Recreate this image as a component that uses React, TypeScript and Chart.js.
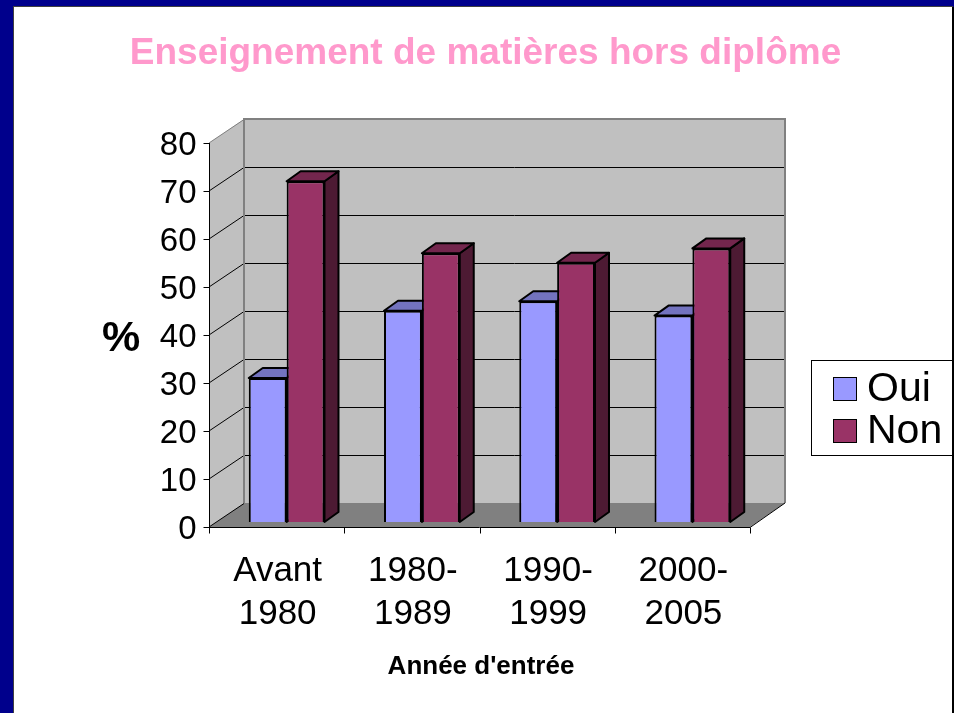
import React, { useEffect, useRef } from "react";
import { Chart, registerables } from "chart.js";

Chart.register(...registerables);

const categories: string[][] = [
  ["Avant", "1980"],
  ["1980-", "1989"],
  ["1990-", "1999"],
  ["2000-", "2005"],
];
const seriesNames = ["Oui", "Non"];
const ouiValues = [30, 44, 46, 43];
const nonValues = [71, 56, 54, 57];
const yTicks = { min: 0, max: 80, step: 10 };
const titleText = "Enseignement de matières hors diplôme";
const yAxisTitle = "%";
const xAxisTitle = "Année d'entrée";

const W = 954;
const H = 713;
const FONT = "'Liberation Sans', Arial, sans-serif";
const FRONT = { dx: -10, dy: 5 };
const BACK = { dx: 25, dy: -19 };
const DEPTH = { dx: 14, dy: -10 };
const faceColors = [
  { front: "#9999FF", top: "#7373BF", side: "#5C5C99" },
  { front: "#993366", top: "#73264D", side: "#4D1A33" },
];

const decorPlugin = {
  id: "decor3d",
  beforeDraw(chart: any) {
    const ctx = chart.ctx;
    ctx.save();
    ctx.fillStyle = "#00008C";
    ctx.fillRect(0, 0, W, H);
    ctx.fillStyle = "#FFFFFF";
    ctx.fillRect(14, 7, 938, H - 7);
    ctx.fillStyle = "#404040";
    ctx.fillRect(13, 6, 1, H);
    ctx.fillRect(13, 6, 940, 1);
    ctx.fillStyle = "#000000";
    ctx.fillRect(952, 7, 2, H);
    ctx.restore();
  },
  beforeDatasetsDraw(chart: any) {
    const ctx = chart.ctx;
    const ca = chart.chartArea;
    const xs = chart.scales.x;
    const ys = chart.scales.y;
    const x0 = ca.left;
    const x1 = ca.right;
    const yp = (v: number) => ys.getPixelForValue(v);
    const vMin = yTicks.min;
    const vMax = yTicks.max;
    ctx.save();

    // left side wall
    ctx.fillStyle = "#C0C0C0";
    ctx.beginPath();
    ctx.moveTo(x0 + FRONT.dx, yp(vMin) + FRONT.dy);
    ctx.lineTo(x0 + FRONT.dx, yp(vMax) + FRONT.dy);
    ctx.lineTo(x0 + BACK.dx, yp(vMax) + BACK.dy);
    ctx.lineTo(x0 + BACK.dx, yp(vMin) + BACK.dy);
    ctx.closePath();
    ctx.fill();
    // back wall
    ctx.fillRect(x0 + BACK.dx, yp(vMax) + BACK.dy, x1 - x0, yp(vMin) - yp(vMax));
    // floor
    ctx.fillStyle = "#808080";
    ctx.beginPath();
    ctx.moveTo(x0 + FRONT.dx, yp(vMin) + FRONT.dy);
    ctx.lineTo(x1 + FRONT.dx, yp(vMin) + FRONT.dy);
    ctx.lineTo(x1 + BACK.dx, yp(vMin) + BACK.dy);
    ctx.lineTo(x0 + BACK.dx, yp(vMin) + BACK.dy);
    ctx.closePath();
    ctx.fill();

    // gridlines
    const ticks = ys.ticks.map((t: any) => t.value);
    ctx.lineWidth = 1;
    ticks.forEach((v: number) => {
      const yb = Math.round(yp(v) + BACK.dy) + 0.5;
      const yf = yp(v) + FRONT.dy;
      ctx.strokeStyle = v === vMax ? "#808080" : "#000000";
      if (v !== vMin) {
        ctx.beginPath();
        ctx.moveTo(x0 + BACK.dx, yb);
        ctx.lineTo(x1 + BACK.dx, yb);
        ctx.stroke();
      }
      ctx.beginPath();
      ctx.moveTo(x0 + FRONT.dx, yf);
      ctx.lineTo(x0 + BACK.dx, yb);
      ctx.stroke();
    });
    // wall edges
    ctx.strokeStyle = "#808080";
    ctx.lineWidth = 2;
    ctx.beginPath();
    ctx.moveTo(x0 + BACK.dx, yp(vMin) + BACK.dy);
    ctx.lineTo(x0 + BACK.dx, yp(vMax) + BACK.dy);
    ctx.lineTo(x1 + BACK.dx, yp(vMax) + BACK.dy);
    ctx.lineTo(x1 + BACK.dx, yp(vMin) + BACK.dy);
    ctx.stroke();

    // y axis (front)
    const ax = Math.round(x0 + FRONT.dx) + 0.5;
    ctx.strokeStyle = "#000000";
    ctx.lineWidth = 1;
    ctx.beginPath();
    ctx.moveTo(ax, yp(vMin) + FRONT.dy);
    ctx.lineTo(ax, yp(vMax) + FRONT.dy);
    ctx.stroke();
    ctx.fillStyle = "#000000";
    ctx.font = `33px ${FONT}`;
    ctx.textAlign = "right";
    ctx.textBaseline = "middle";
    ticks.forEach((v: number) => {
      const yf = Math.round(yp(v) + FRONT.dy) + 0.5;
      ctx.beginPath();
      ctx.moveTo(ax - 6, yf);
      ctx.lineTo(ax, yf);
      ctx.stroke();
      ctx.fillText(String(v), ax - 13, yf + 2);
    });

    // x axis (front)
    const y0f = Math.round(yp(vMin) + FRONT.dy) + 0.5;
    ctx.beginPath();
    ctx.moveTo(x0 + FRONT.dx, y0f);
    ctx.lineTo(x1 + FRONT.dx, y0f);
    ctx.lineTo(x1 + BACK.dx, yp(vMin) + BACK.dy);
    ctx.stroke();
    const n = chart.data.labels.length;
    const catW = (x1 - x0) / n;
    for (let i = 0; i <= n; i++) {
      const tx = Math.round(x0 + FRONT.dx + i * catW) + 0.5;
      ctx.beginPath();
      ctx.moveTo(tx, y0f);
      ctx.lineTo(tx, y0f + 6);
      ctx.stroke();
    }
    ctx.font = `35px ${FONT}`;
    ctx.textAlign = "center";
    chart.data.labels.forEach((lab: string[], i: number) => {
      const cx = xs.getPixelForValue(i) + FRONT.dx + 1;
      lab.forEach((line, j) => {
        ctx.fillText(line, cx, y0f + 44 + j * 43);
      });
    });

    // axis titles
    ctx.font = `bold 26px ${FONT}`;
    ctx.fillText(xAxisTitle, 481, 667);
    ctx.font = `bold 43px ${FONT}`;
    ctx.fillText(yAxisTitle, 121, 339);

    // chart title
    ctx.font = `bold 37px ${FONT}`;
    ctx.fillStyle = "#FF99CC";
    ctx.textBaseline = "alphabetic";
    ctx.fillText(titleText, 485.5, 64);

    // legend
    ctx.fillStyle = "#FFFFFF";
    ctx.fillRect(811, 360, 141, 95);
    ctx.strokeStyle = "#000000";
    ctx.lineWidth = 1;
    ctx.strokeRect(811.5, 360.5, 145, 95);
    chart.data.datasets.forEach((ds: any, i: number) => {
      const sy = 377 + i * 42;
      ctx.fillStyle = ds.backgroundColor;
      ctx.fillRect(833, sy, 24, 24);
      ctx.strokeRect(833.5, sy + 0.5, 23, 23);
      ctx.fillStyle = "#000000";
      ctx.font = `41px ${FONT}`;
      ctx.textAlign = "left";
      ctx.textBaseline = "middle";
      ctx.fillText(ds.label, 867, sy + 13);
    });

    // 3D faces of bars (drawn behind the front faces)
    ctx.lineWidth = 2;
    ctx.strokeStyle = "#000000";
    ctx.lineJoin = "round";
    chart.data.datasets.forEach((_ds: any, di: number) => {
      const meta = chart.getDatasetMeta(di);
      meta.data.forEach((el: any) => {
        const p = el.getProps(["x", "y", "base", "width"], true);
        const l = p.x - p.width / 2;
        const r = p.x + p.width / 2;
        const t = p.y;
        const b = p.base;
        // side
        ctx.fillStyle = faceColors[di].side;
        ctx.beginPath();
        ctx.moveTo(r, t);
        ctx.lineTo(r + DEPTH.dx, t + DEPTH.dy);
        ctx.lineTo(r + DEPTH.dx, b + DEPTH.dy);
        ctx.lineTo(r, b);
        ctx.closePath();
        ctx.fill();
        ctx.stroke();
        // top
        ctx.fillStyle = faceColors[di].top;
        ctx.beginPath();
        ctx.moveTo(l, t);
        ctx.lineTo(l + DEPTH.dx, t + DEPTH.dy);
        ctx.lineTo(r + DEPTH.dx, t + DEPTH.dy);
        ctx.lineTo(r, t);
        ctx.closePath();
        ctx.fill();
        ctx.stroke();
      });
    });
    ctx.restore();
  },
};

export default function App() {
  const ref = useRef<HTMLCanvasElement | null>(null);
  useEffect(() => {
    document.body.style.margin = "0";
    const canvas = ref.current;
    if (!canvas) return;
    const chart = new Chart(canvas, {
      type: "bar",
      data: {
        labels: categories as any,
        datasets: [
          {
            label: seriesNames[0],
            data: ouiValues,
            backgroundColor: faceColors[0].front,
            borderColor: "#000000",
            borderWidth: 2,
          },
          {
            label: seriesNames[1],
            data: nonValues,
            backgroundColor: faceColors[1].front,
            borderColor: "#000000",
            borderWidth: 2,
          },
        ],
      },
      options: {
        responsive: false,
        animation: false,
        devicePixelRatio: 1,
        layout: { padding: { left: 219, right: 194, top: 138, bottom: 191 } },
        datasets: { bar: { categoryPercentage: 0.56, barPercentage: 1.0 } },
        scales: {
          x: { display: false, offset: true },
          y: {
            display: false,
            min: yTicks.min,
            max: yTicks.max,
            ticks: { stepSize: yTicks.step },
          },
        },
        plugins: {
          legend: { display: false },
          title: { display: false },
          tooltip: { enabled: false },
        },
      } as any,
      plugins: [decorPlugin],
    });
    return () => chart.destroy();
  }, []);
  return (
    <div style={{ width: W, height: H }}>
      <canvas ref={ref} width={W} height={H} style={{ width: W, height: H, display: "block" }} />
    </div>
  );
}
